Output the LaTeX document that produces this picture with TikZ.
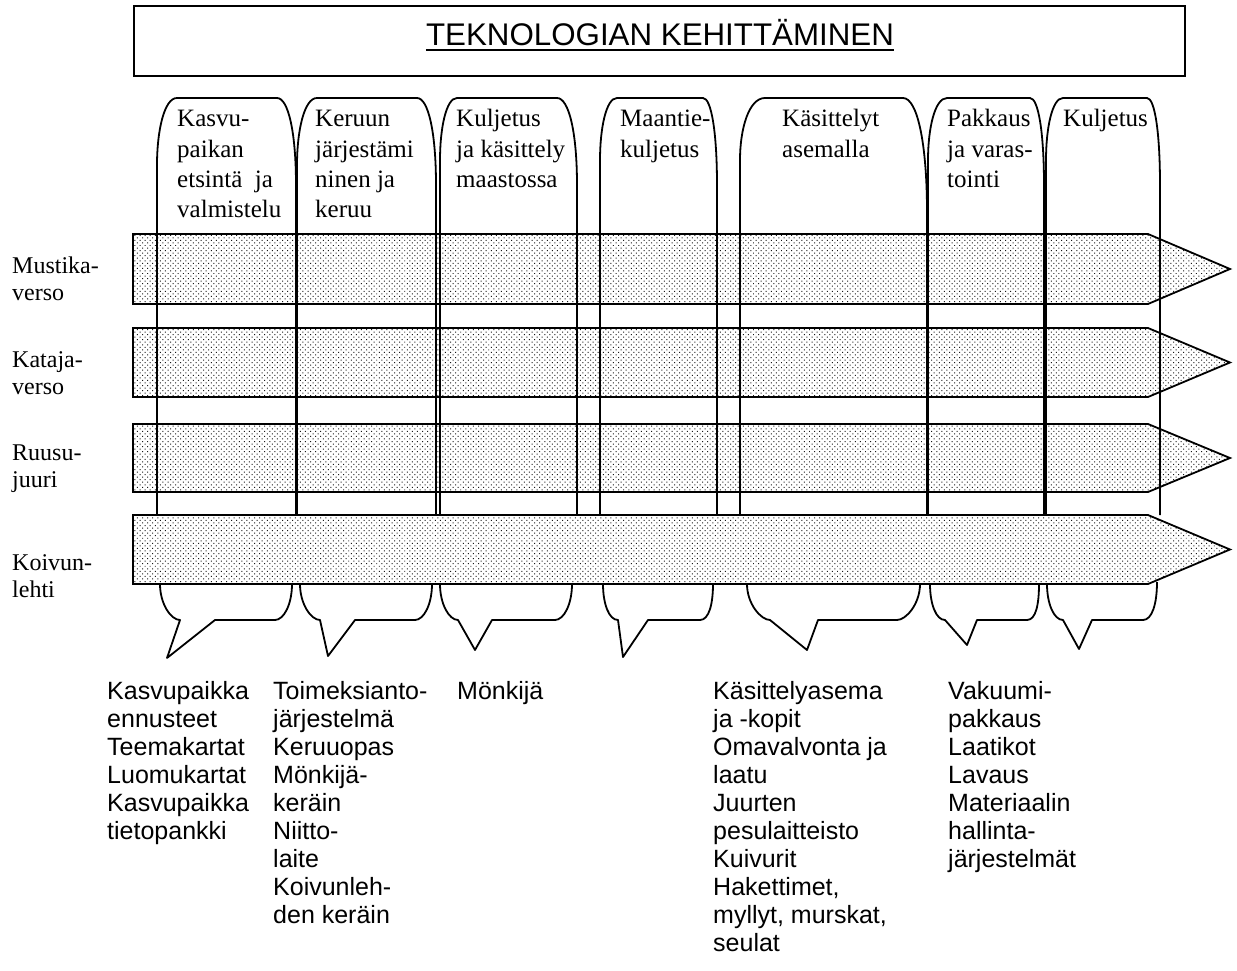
\documentclass[tikz,border=0pt]{standalone}
\usepackage{fontspec}
\setmainfont{Liberation Serif}
\newfontfamily\sansf{Liberation Sans}
\usetikzlibrary{patterns.meta}

% left-aligned stack of lines whose baseline is the first line's baseline
\newcommand\txtstack[1]{\vtop{\halign{##\hfil\cr#1\crcr}}}

% one dotted process band: top y, middle y, bottom y
\newcommand\band[3]{%
  \draw[bandstyle] (133,#1) -- (1148,#1) -- (1230,#2) -- (1148,#3) -- (133,#3) -- cycle;}

% phase column: left x, right x, flat-top start, flat-top end, left bend y, right bend y
\newcommand\colbump[6]{%
  \draw[colline] (#1,515) -- (#1,#5)
    .. controls (#1,{(#5+98)/2}) and ({#1+0.35*(#3-#1)},98) .. (#3,98)
    -- (#4,98)
    .. controls ({#4+0.6*(#2-#4)},98) and (#2,{98+0.4*(#6-98)}) .. (#2,#6)
    -- (#2,515);}

% speech-bubble foot under a column
\newcommand\colfoot[8]{%
  \draw[colline] (#1,584) .. controls (#1,604) and ({#2-9},620) .. (#2,620)
    -- (#3,#4) -- (#5,620) -- (#6,620)
    .. controls ({#6+9},620) and (#7,604) .. (#7,#8);}

\begin{document}
\begin{tikzpicture}[x=1pt,y=-1pt,
  outline/.style={line width=1.8pt, line join=miter},
  bandstyle/.style={outline, preaction={fill=white},
    pattern={Dots[angle=45,distance=3.6pt,radius=0.7pt]}, pattern color=black!90},
  colline/.style={line width=1.8pt, line join=round},
  toplbl/.style={anchor=base west, inner sep=0pt, font=\fontsize{25}{30.3}\selectfont},
  sidelbl/.style={anchor=base west, inner sep=0pt, font=\fontsize{24}{27}\selectfont},
  botlbl/.style={anchor=base west, inner sep=0pt, font=\sansf\fontsize{25}{28}\selectfont},
]
\useasboundingbox (0,0) rectangle (1237,971);

% heading
\node (titlebox) [draw, outline, anchor=north west, inner sep=0pt,
  minimum width=1051pt, minimum height=70pt] at (133,5) {};
\node (title) [anchor=base, inner sep=0pt, font=\sansf\fontsize{31.3}{37}\selectfont]
  at (660,46) {TEKNOLOGIAN KEHITTÄMINEN};
\draw[line width=2.4pt] ([yshift=-3.8pt]title.base west) -- ([yshift=-3.8pt]title.base east);

% product bands under the columns
\band{234}{269}{304}
\band{328}{362.5}{397}
\band{424}{458}{492}

% phase columns
\colbump{157}{296}{177}{277}{165}{185}
\colbump{297}{436}{317}{417}{165}{185}
\colbump{440}{577}{457}{557}{160}{185}
\colbump{600}{717}{617}{703}{160}{185}
\colbump{740}{927}{765}{903}{160}{212}
\colbump{928}{1044}{947}{1030}{160}{185}
\colbump{1046}{1160}{1063}{1147}{160}{185}

% last band covers the column lines
\band{515}{549.5}{584}

% column feet
\colfoot{160}{180}{167}{658}{215}{275}{292}{584}
\colfoot{300}{320}{328}{656}{355}{415}{432}{584}
\colfoot{440}{458}{475}{650}{492}{555}{572}{584}
\colfoot{603}{618}{623}{657}{648}{700}{713}{584}
\colfoot{747}{770}{807}{650}{818}{897}{920}{584}
\colfoot{930}{945}{967}{645}{977}{1027}{1039}{584}
\colfoot{1047}{1063}{1079}{649}{1092}{1143}{1157}{582}

% column headings
\node (p1) [toplbl] at (177,127) {\txtstack{Kasvu-\cr paikan\cr etsintä\ \ ja\cr valmistelu}};
\node (p2) [toplbl] at (315,127) {\txtstack{Keruun\cr järjestämi\cr ninen ja\cr keruu}};
\node (p3) [toplbl] at (456,127) {\txtstack{Kuljetus\cr ja käsittely\cr maastossa}};
\node (p4) [toplbl] at (620,127) {\txtstack{Maantie-\cr kuljetus}};
\node (p5) [toplbl] at (782,127) {\txtstack{Käsittelyt\cr asemalla}};
\node (p6) [toplbl] at (947,127) {\txtstack{Pakkaus\cr ja varas-\cr tointi}};
\node (p7) [toplbl] at (1063,127) {\txtstack{Kuljetus}};

% band names
\node (r1) [sidelbl] at (12,273) {\txtstack{Mustika-\cr verso}};
\node (r2) [sidelbl] at (12,367) {\txtstack{Kataja-\cr verso}};
\node (r3) [sidelbl] at (12,460) {\txtstack{Ruusu-\cr juuri}};
\node (r4) [sidelbl] at (12,570) {\txtstack{Koivun-\cr lehti}};

% technologies per column
\node (t1) [botlbl] at (107,699) {\txtstack{Kasvupaikka\cr ennusteet\cr Teemakartat\cr Luomukartat\cr Kasvupaikka\cr tietopankki}};
\node (t2) [botlbl] at (273,699) {\txtstack{Toimeksianto-\cr järjestelmä\cr Keruuopas\cr Mönkijä-\cr keräin\cr Niitto-\cr laite\cr Koivunleh-\cr den keräin}};
\node (t3) [botlbl] at (457,699) {\txtstack{Mönkijä}};
\node (t5) [botlbl] at (713,699) {\txtstack{Käsittelyasema\cr ja -kopit\cr Omavalvonta ja\cr laatu\cr Juurten\cr pesulaitteisto\cr Kuivurit\cr Hakettimet,\cr myllyt, murskat,\cr seulat}};
\node (t6) [botlbl] at (948,699) {\txtstack{Vakuumi-\cr pakkaus\cr Laatikot\cr Lavaus\cr Materiaalin\cr hallinta-\cr järjestelmät}};
\end{tikzpicture}
\end{document}
